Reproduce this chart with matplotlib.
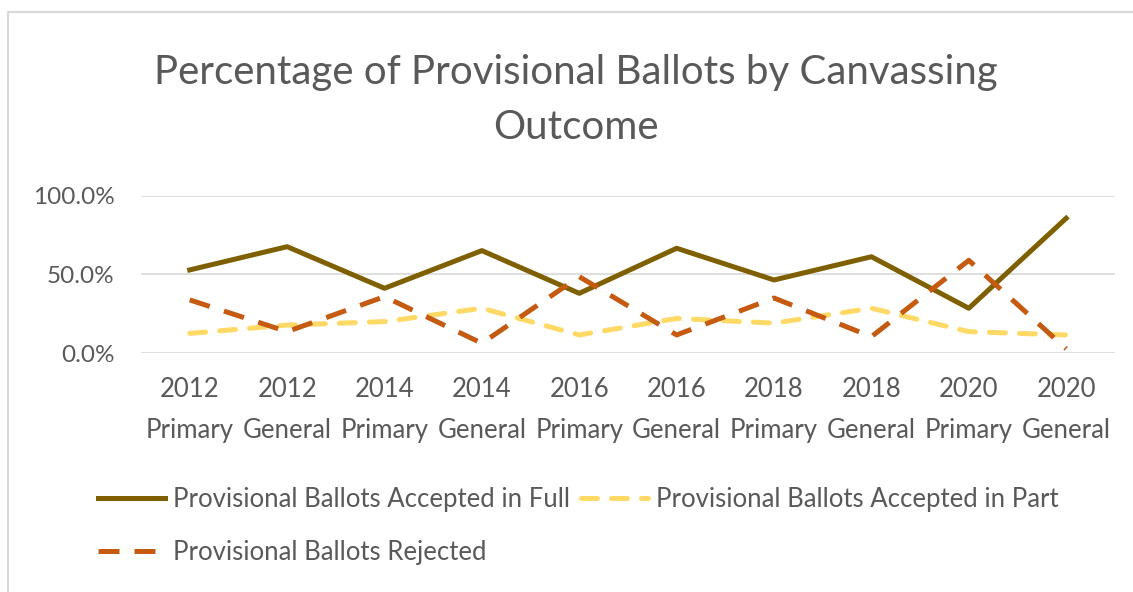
import matplotlib.pyplot as plt
from matplotlib.patches import Rectangle
from matplotlib.ticker import PercentFormatter

# Categories (election) and percentages
elections = ['2012\nPrimary', '2012\nGeneral', '2014\nPrimary', '2014\nGeneral',
             '2016\nPrimary', '2016\nGeneral', '2018\nPrimary', '2018\nGeneral',
             '2020\nPrimary', '2020\nGeneral']
accepted_full = [52.9, 67.7, 41.2, 65.2, 38.0, 66.7, 46.5, 61.3, 28.5, 85.8]
accepted_part = [12.5, 17.8, 20.0, 28.5, 11.5, 22.0, 19.0, 28.5, 13.6, 11.5]
rejected = [33.8, 13.6, 35.9, 6.2, 48.6, 11.5, 35.0, 10.4, 59.0, 2.7]

grey = '#595959'
plt.rcParams['font.family'] = ['Lato', 'DejaVu Sans']

fig = plt.figure(figsize=(11.33, 5.92), dpi=100)
ax = fig.add_axes([0.1245, 0.4037, 0.8595, 0.2653])

# outer chart border
fig.patches.append(Rectangle((8 / 1133, -0.1), 1.2, 1 - 12 / 592 + 0.1,
                             transform=fig.transFigure, fill=False,
                             edgecolor='#d9d9d9', linewidth=1.5))

x = range(len(elections))
l_full, = ax.plot(x, accepted_full, color='#7f6000', lw=3.6,
                  label='Provisional Ballots Accepted in Full')
l_part, = ax.plot(x, accepted_part, color='#ffd966', lw=3.6, dashes=(3.2, 2.8),
                  dash_capstyle='round', label='Provisional Ballots Accepted in Part')
l_rej, = ax.plot(x, rejected, color='#c55a11', lw=3.6, dashes=(4.2, 3.0),
                 label='Provisional Ballots Rejected')

ax.set_xlim(-0.5, len(elections) - 0.5)
ax.set_ylim(0, 100)
ax.set_yticks([0, 50, 100])
ax.yaxis.set_major_formatter(PercentFormatter(decimals=1))
ax.set_xticks(list(x))
ax.set_xticklabels(elections, linespacing=1.8)
ax.grid(axis='y', color='#d9d9d9', lw=1.2)
ax.set_axisbelow(True)
for s in ax.spines.values():
    s.set_visible(False)
ax.tick_params(length=0, colors=grey)
ax.tick_params(axis='x', labelsize=18.5, pad=17)
ax.tick_params(axis='y', labelsize=17.5, pad=19)

fig.text(0.508, 0.831, 'Percentage of Provisional Ballots by Canvassing\nOutcome',
         ha='center', va='center', fontsize=29, color=grey, linespacing=1.62)

fig.legend([l_full, l_rej, l_part],
           [l_full.get_label(), l_rej.get_label(), l_part.get_label()],
           loc='upper left', bbox_to_anchor=(0.0865, 0.178), ncol=2,
           frameon=False, fontsize=18.5, labelcolor=grey, handlelength=2.6,
           handletextpad=0.3, columnspacing=0.45, labelspacing=1.12,
           borderaxespad=0, borderpad=0)

fig.savefig('out.png', dpi=100)
